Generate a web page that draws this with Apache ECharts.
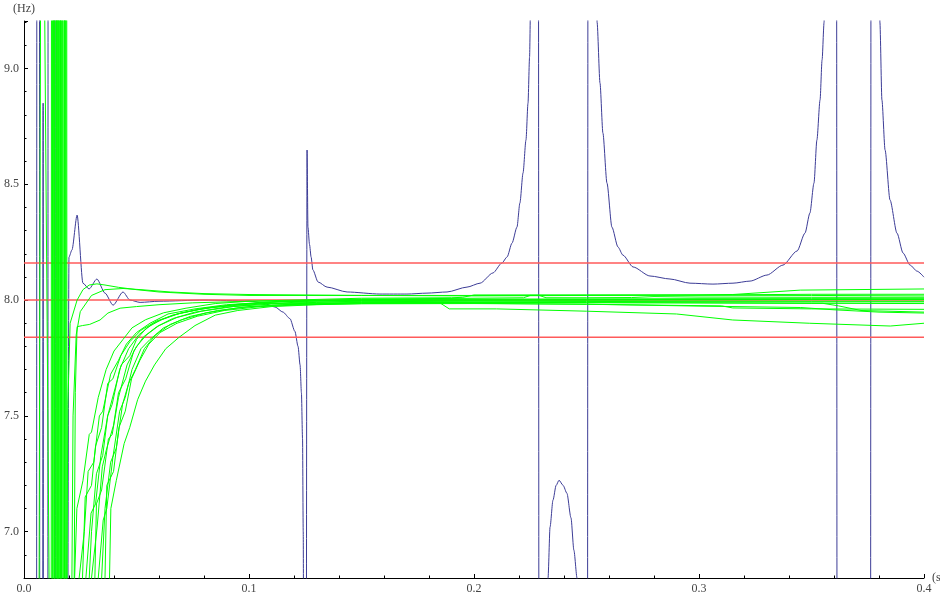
<!DOCTYPE html>
<html><head><meta charset="utf-8">
<script src="https://cdn.jsdelivr.net/npm/echarts@6/dist/echarts.min.js"></script>
<style>html,body{margin:0;padding:0;background:#fff}#c{width:940px;height:596px}</style>
</head><body><div id="c"></div><script>
// x: time (s), y: frequency estimate (Hz)
const xRange = [0, 0.4];
const yRange = [6.8, 9.205];
const limits = [7.84, 8.0, 8.16];

const blue = [
  [0.004,4],[0.0055,4],[0.0058,12],[0.0068,12],[0.0071,4],[0.0082,4],[0.0085,8.85],[0.0087,4],
  [0.0105,4],[0.0108,12],[0.0137,12],[0.0140,4],[0.0188,4],
  [0.0200,8.186],[0.0213,8.216],[0.0236,8.367],[0.0262,8.073],[0.0289,8.048],[0.0324,8.091],
  [0.0360,8.03],[0.0396,7.978],[0.0440,8.035],[0.0471,8.0],[0.0516,7.99],[0.060,7.995],[0.080,8.0],
  [0.100,7.996],[0.1062,7.987],[0.1116,7.97],[0.1151,7.948],[0.1182,7.92],[0.1204,7.865],[0.1218,7.80],
  [0.1227,7.72],[0.1233,7.6],[0.1238,7.4],[0.1241,7.0],[0.1243,6.5],[0.1245,4],
  [0.1252,4],[0.1258,8.648],[0.1262,8.315],[0.1269,8.24],[0.1276,8.186],[0.1284,8.13],[0.1307,8.078],
  [0.1347,8.056],[0.1436,8.035],[0.1582,8.026],[0.1702,8.026],[0.1791,8.03],[0.1880,8.035],[0.1969,8.056],
  [0.2027,8.073],[0.2084,8.117],[0.2124,8.16],[0.2147,8.186],[0.2169,8.246],[0.2191,8.315],[0.2204,8.419],
  [0.2218,8.549],[0.2231,8.691],[0.2240,8.85],[0.2247,9.05],[0.2251,9.25],[0.2253,9.6],[0.2256,10.5],[0.2260,12],
  [0.2285,12],[0.2290,4],
  [0.2322,4],[0.2329,6.80],[0.2338,7.02],[0.2351,7.136],[0.2365,7.2],[0.2378,7.222],[0.2396,7.2],[0.2413,7.166],
  [0.2431,7.06],[0.2444,6.92],[0.2458,6.80],[0.2465,4],
  [0.2503,4],[0.2508,12],[0.2543,12],
  [0.2547,9.2],[0.2560,8.937],[0.2573,8.721],[0.2591,8.505],[0.2613,8.315],[0.2640,8.229],[0.2662,8.194],
  [0.2707,8.143],[0.2782,8.104],[0.2871,8.091],[0.2960,8.073],[0.3062,8.069],[0.3151,8.073],[0.3227,8.082],
  [0.3302,8.108],[0.3373,8.151],[0.3436,8.212],[0.3471,8.289],[0.3493,8.376],[0.3511,8.505],[0.3524,8.691],
  [0.3538,8.864],[0.3547,9.037],[0.3556,9.2],[0.3561,12],
  [0.3610,12],[0.3615,4],[0.3761,4],[0.3766,12],[0.3800,12],
  [0.3804,9.2],[0.3813,8.864],[0.3827,8.648],[0.3849,8.432],[0.3880,8.289],[0.3907,8.203],[0.3938,8.151],
  [0.3969,8.125],[0.4000,8.099]
];

const green1 = [[0.006,4],[0.0078,11],[0.0118,6.0],[0.0135,4],[0.0212,5],[0.0228,7.6],[0.0236,7.885],[0.026,7.89],[0.0292,7.895],[0.0338,7.914],[0.0373,7.944],[0.0427,7.965],[0.050,7.972],[0.060,7.98],[0.075,7.988],[0.10,7.995],[0.15,7.999],[0.20,8.001],[0.25,8.002],[0.30,8.003],[0.35,8.003],[0.40,8.003]];
const green2 = [[0.006,4],[0.0120,4],[0.0123,12],[0.0150,12],[0.0153,4],[0.0180,5],[0.0195,7.55],[0.0205,7.9],[0.0236,8.0],[0.0262,8.045],[0.0290,8.065],[0.0324,8.07],[0.0360,8.065],[0.0420,8.055],[0.050,8.045],[0.060,8.035],[0.080,8.025],[0.10,8.02],[0.15,8.02],[0.20,8.02],[0.25,8.021],[0.30,8.022],[0.315,8.024],[0.345,8.043],[0.40,8.048]];
const green3 = [[0.006,4],[0.0135,4],[0.0138,12],[0.0165,12],[0.0168,4],[0.0200,5],[0.0218,7.5],[0.0232,7.85],[0.0250,7.95],[0.030,8.02],[0.036,8.045],[0.044,8.05],[0.052,8.045],[0.065,8.035],[0.08,8.028],[0.10,8.024],[0.15,8.02],[0.20,8.018],[0.25,8.02],[0.30,8.022],[0.35,8.025],[0.40,8.025]];
const green4 = [[0.005,4],[0.0125,4],[0.0128,12],[0.0135,12],[0.0138,4],[0.0212,5.5],[0.0225,6.8],[0.0235,7.1],[0.0262,7.22],[0.0290,7.42],[0.0300,7.43],[0.0330,7.58],[0.0365,7.7],[0.0400,7.78],[0.0440,7.83],[0.0480,7.88],[0.0540,7.915],[0.0620,7.945],[0.0720,7.965],[0.0850,7.985],[0.10,7.995],[0.15,8.008],[0.19,8.01],[0.195,8.012],[0.20,8.022],[0.25,8.022],[0.30,8.021],[0.35,8.02],[0.40,8.018]];
const green5 = [[0.005,4],[0.0140,4],[0.0143,12],[0.0147,12],[0.0150,4],[0.0230,5.5],[0.0245,6.8],[0.0268,7.0],[0.0285,7.26],[0.0310,7.3],[0.0335,7.5],[0.0350,7.52],[0.0385,7.68],[0.0420,7.74],[0.0455,7.81],[0.0500,7.86],[0.0560,7.9],[0.0640,7.94],[0.0760,7.962],[0.0900,7.98],[0.11,7.992],[0.15,8.004],[0.20,8.008],[0.222,8.01],[0.225,8.02],[0.229,8.02],[0.232,8.01],[0.25,8.01],[0.27,8.011],[0.28,8.015],[0.30,8.013],[0.35,8.012],[0.40,8.012]];
const green6 = [[0.005,4],[0.0155,4],[0.0158,12],[0.0160,12],[0.0163,4],[0.0248,5.5],[0.0260,6.8],[0.0272,7.15],[0.0300,7.2],[0.0318,7.37],[0.0345,7.45],[0.0372,7.64],[0.0395,7.66],[0.0430,7.76],[0.0470,7.82],[0.0520,7.87],[0.0590,7.91],[0.0680,7.94],[0.0800,7.965],[0.0950,7.982],[0.115,7.995],[0.15,8.002],[0.20,8.004],[0.25,8.005],[0.30,8.006],[0.35,8.006],[0.40,8.006]];
const green7 = [[0.005,4],[0.0168,4],[0.0171,12],[0.0172,12],[0.0175,4],[0.0262,5.5],[0.0275,6.8],[0.0298,7.08],[0.0318,7.12],[0.0342,7.33],[0.0372,7.5],[0.0392,7.55],[0.0425,7.7],[0.0465,7.79],[0.0510,7.85],[0.0575,7.9],[0.0660,7.935],[0.0780,7.96],[0.0940,7.98],[0.115,7.993],[0.15,7.998],[0.20,8.0],[0.25,8.001],[0.30,8.002],[0.35,8.003],[0.40,8.003]];
const green8 = [[0.005,4],[0.0176,4],[0.0179,12],[0.0181,12],[0.0184,4],[0.0278,5.5],[0.0290,6.8],[0.0300,7.0],[0.0322,7.25],[0.0350,7.33],[0.0372,7.5],[0.0405,7.62],[0.0432,7.72],[0.0470,7.76],[0.0500,7.83],[0.0545,7.88],[0.0610,7.915],[0.0700,7.945],[0.0830,7.968],[0.100,7.982],[0.12,7.99],[0.15,7.995],[0.20,7.997],[0.25,7.997],[0.30,7.996],[0.35,7.995],[0.40,7.995]];
const green9 = [[0.005,4],[0.0182,4],[0.0185,12],[0.0186,12],[0.0189,4],[0.0288,5.5],[0.0300,6.8],[0.0325,7.02],[0.0348,7.28],[0.0365,7.35],[0.0398,7.46],[0.0420,7.6],[0.0452,7.66],[0.0488,7.78],[0.0530,7.84],[0.0590,7.885],[0.0660,7.92],[0.0760,7.948],[0.0900,7.97],[0.105,7.983],[0.13,7.99],[0.15,7.993],[0.20,7.995],[0.25,7.994],[0.30,7.993],[0.35,7.992],[0.40,7.992]];
const green10 = [[0.005,4],[0.0128,4],[0.0131,12],[0.0144,12],[0.0147,4],[0.0302,5.5],[0.0315,6.8],[0.0322,7.12],[0.0345,7.18],[0.0375,7.4],[0.0392,7.42],[0.0420,7.58],[0.0458,7.72],[0.0500,7.8],[0.0545,7.85],[0.0600,7.89],[0.0680,7.925],[0.0790,7.952],[0.0930,7.972],[0.11,7.983],[0.15,7.99],[0.20,7.99],[0.25,7.989],[0.30,7.988],[0.35,7.986],[0.40,7.985]];
const green11 = [[0.005,4],[0.0150,4],[0.0153,12],[0.0189,12],[0.0192,4],[0.0318,5.5],[0.0330,6.8],[0.0352,7.05],[0.0368,7.1],[0.0395,7.32],[0.0425,7.52],[0.0450,7.58],[0.0480,7.7],[0.0520,7.79],[0.0560,7.83],[0.0620,7.88],[0.0700,7.915],[0.0810,7.945],[0.0960,7.968],[0.115,7.98],[0.15,7.988],[0.20,7.986],[0.25,7.982],[0.30,7.976],[0.31,7.975],[0.315,7.966],[0.35,7.962],[0.40,7.96]];
const green12 = [[0.005,4],[0.0133,4],[0.0136,12],[0.0162,12],[0.0165,4],[0.0332,5.5],[0.0345,6.8],[0.0360,7.1],[0.0385,7.3],[0.0410,7.36],[0.0438,7.55],[0.0465,7.64],[0.0495,7.7],[0.0535,7.79],[0.0585,7.85],[0.0650,7.895],[0.0740,7.93],[0.0860,7.955],[0.100,7.972],[0.12,7.982],[0.15,7.988],[0.20,7.99],[0.25,7.989],[0.30,7.988],[0.355,7.986],[0.362,7.975],[0.372,7.955],[0.40,7.948]];
const green13 = [[0.005,4],[0.0160,4],[0.0163,12],[0.0178,12],[0.0181,4],[0.0350,5.5],[0.0360,6.8],[0.0368,7.2],[0.0398,7.26],[0.0422,7.45],[0.0450,7.52],[0.0478,7.66],[0.0515,7.74],[0.0555,7.81],[0.0605,7.86],[0.0680,7.9],[0.0770,7.93],[0.0890,7.955],[0.105,7.972],[0.125,7.98],[0.15,7.984],[0.20,7.985],[0.25,7.982],[0.30,7.974],[0.345,7.968],[0.36,7.958],[0.38,7.948],[0.40,7.944]];
const green14 = [[0.005,4],[0.0146,4],[0.0149,12],[0.0156,12],[0.0159,4],[0.0368,5.5],[0.0380,6.8],[0.0386,7.1],[0.0410,7.22],[0.0445,7.38],[0.0470,7.45],[0.0505,7.57],[0.0540,7.65],[0.0580,7.72],[0.0630,7.79],[0.0690,7.84],[0.0760,7.89],[0.0850,7.935],[0.095,7.955],[0.110,7.972],[0.13,7.98],[0.15,7.985],[0.185,7.987],[0.189,7.962],[0.21,7.962],[0.25,7.952],[0.29,7.94],[0.315,7.914],[0.349,7.90],[0.385,7.888],[0.40,7.9]];
const greens = [green1,green2,green3,green4,green5,green6,green7,green8,green9,green10,green11,green12,green13,green14];

const BLUE = '#3c3c96', RED = '#ff5a5a', GREEN = '#00ff00';
const labelFont = {fontFamily: 'Liberation Serif', fontSize: 12, color: '#444'};

const series = [];
series.push({type:'line', data: blue, symbol:'none', silent:true, clip:true, z:2,
  smooth: 0.25, smoothMonotone: 'x',
  lineStyle:{color: BLUE, width: 1}});
limits.forEach(v => series.push({type:'line', data:[[xRange[0], v],[xRange[1], v]], symbol:'none', silent:true, z:3,
  lineStyle:{color: RED, width: 1.5}}));
greens.forEach(g => series.push({type:'line', data: g, symbol:'none', silent:true, clip:true, z:4,
  lineStyle:{color: GREEN, width: 1}}));

const chart = echarts.init(document.getElementById('c'), null, {renderer:'canvas'});
chart.setOption({
  animation: false,
  backgroundColor: '#fff',
  grid: {left: 24, right: 16, top: 21, bottom: 18, containLabel: false, outerBoundsMode: 'none'},
  xAxis: {
    type: 'value', min: xRange[0], max: xRange[1], interval: 0.1,
    name: '(s)', nameLocation: 'end', nameGap: 8, nameMoveOverlap: false,
    nameTextStyle: {fontFamily: 'Liberation Serif', fontSize: 12, color: '#444', verticalAlign: 'middle'},
    axisLine: {show: true, onZero: false, lineStyle: {color: '#000', width: 1}},
    axisTick: {show: true, inside: true, length: 4, lineStyle: {color: '#000'}},
    minorTick: {show: true, splitNumber: 5, length: 2.5, lineStyle: {color: '#000'}},
    axisLabel: Object.assign({margin: 5, formatter: v => v.toFixed(1)}, labelFont),
    splitLine: {show: false}
  },
  yAxis: {
    type: 'value', min: yRange[0], max: yRange[1],
    name: '(Hz)', nameLocation: 'end', nameGap: 6, nameMoveOverlap: false,
    nameTextStyle: {fontFamily: 'Liberation Serif', fontSize: 12, color: '#444'},
    axisLine: {show: true, onZero: false, lineStyle: {color: '#000', width: 1}},
    axisTick: {show: true, inside: true, length: 4, lineStyle: {color: '#000'}},
    minorTick: {show: true, splitNumber: 5, length: 2.5, lineStyle: {color: '#000'}},
    axisLabel: Object.assign({margin: 5, showMinLabel: false, showMaxLabel: false, formatter: v => v.toFixed(1)}, labelFont),
    splitLine: {show: false}
  },
  series: series
});
</script></body></html>
